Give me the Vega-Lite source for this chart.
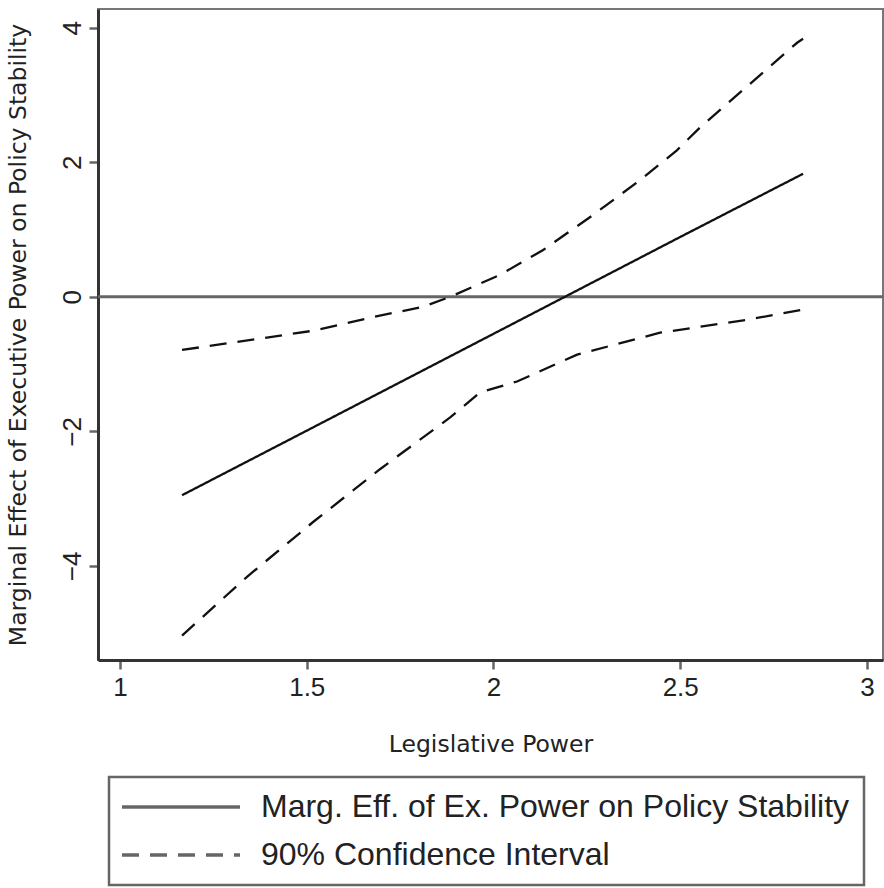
{
  "$schema": "https://vega.github.io/schema/vega-lite/v6.json",
  "width": 785,
  "height": 651,
  "autosize": {"type": "none"},
  "padding": {"left": 98, "top": 9, "right": 1, "bottom": 228},
  "background": "white",
  "config": {
    "view": {"stroke": "#777", "strokeWidth": 2},
    "font": "Liberation Sans",
    "axis": {
      "grid": false,
      "domainColor": "#333",
      "domainWidth": 3,
      "tickColor": "#666",
      "tickWidth": 2.5,
      "tickSize": 9,
      "labelFont": "Liberation Sans",
      "labelFontSize": 26,
      "labelColor": "#222",
      "titleFont": "DejaVu Sans",
      "titleFontSize": 23.5,
      "titleFontWeight": "normal",
      "titleColor": "#222"
    },
    "legend": {
      "orient": "none",
      "legendX": 11,
      "legendY": 768,
      "strokeColor": "#666",
      "strokeWidth": 2.5,
      "padding": 14,
      "labelFont": "Liberation Sans",
      "labelFontSize": 32,
      "labelColor": "#222",
      "labelLimit": 800,
      "rowPadding": 16
    }
  },
  "data": {
    "values": [
      {"x": 1.166, "y": -2.95, "series": "Marg. Eff. of Ex. Power on Policy Stability", "line": "est"},
      {"x": 1.5, "y": -1.99, "series": "Marg. Eff. of Ex. Power on Policy Stability", "line": "est"},
      {"x": 2.0, "y": -0.55, "series": "Marg. Eff. of Ex. Power on Policy Stability", "line": "est"},
      {"x": 2.5, "y": 0.89, "series": "Marg. Eff. of Ex. Power on Policy Stability", "line": "est"},
      {"x": 2.829, "y": 1.83, "series": "Marg. Eff. of Ex. Power on Policy Stability", "line": "est"},
      {"x": 1.166, "y": -0.79, "series": "90% Confidence Interval", "line": "upper"},
      {"x": 1.517, "y": -0.504, "series": "90% Confidence Interval", "line": "upper"},
      {"x": 1.669, "y": -0.311, "series": "90% Confidence Interval", "line": "upper"},
      {"x": 1.811, "y": -0.148, "series": "90% Confidence Interval", "line": "upper"},
      {"x": 1.884, "y": 0.0, "series": "90% Confidence Interval", "line": "upper"},
      {"x": 2.017, "y": 0.326, "series": "90% Confidence Interval", "line": "upper"},
      {"x": 2.133, "y": 0.696, "series": "90% Confidence Interval", "line": "upper"},
      {"x": 2.266, "y": 1.215, "series": "90% Confidence Interval", "line": "upper"},
      {"x": 2.392, "y": 1.733, "series": "90% Confidence Interval", "line": "upper"},
      {"x": 2.491, "y": 2.178, "series": "90% Confidence Interval", "line": "upper"},
      {"x": 2.553, "y": 2.519, "series": "90% Confidence Interval", "line": "upper"},
      {"x": 2.813, "y": 3.778, "series": "90% Confidence Interval", "line": "upper"},
      {"x": 2.829, "y": 3.837, "series": "90% Confidence Interval", "line": "upper"},
      {"x": 1.166, "y": -5.037, "series": "90% Confidence Interval", "line": "lower"},
      {"x": 1.34, "y": -4.163, "series": "90% Confidence Interval", "line": "lower"},
      {"x": 1.517, "y": -3.348, "series": "90% Confidence Interval", "line": "lower"},
      {"x": 1.696, "y": -2.563, "series": "90% Confidence Interval", "line": "lower"},
      {"x": 1.884, "y": -1.793, "series": "90% Confidence Interval", "line": "lower"},
      {"x": 1.964, "y": -1.422, "series": "90% Confidence Interval", "line": "lower"},
      {"x": 2.063, "y": -1.259, "series": "90% Confidence Interval", "line": "lower"},
      {"x": 2.224, "y": -0.859, "series": "90% Confidence Interval", "line": "lower"},
      {"x": 2.446, "y": -0.533, "series": "90% Confidence Interval", "line": "lower"},
      {"x": 2.679, "y": -0.341, "series": "90% Confidence Interval", "line": "lower"},
      {"x": 2.826, "y": -0.193, "series": "90% Confidence Interval", "line": "lower"}
    ]
  },
  "layer": [
    {
      "data": {"values": [{"zero": 0}]},
      "mark": {"type": "rule", "color": "#666", "strokeWidth": 3},
      "encoding": {"y": {"field": "zero", "type": "quantitative", "scale": {"domain": [-5.4, 4.28], "nice": false, "zero": false}}}
    },
    {
      "mark": {"type": "line", "color": "#111", "strokeWidth": 2.3, "clip": true},
      "encoding": {
        "x": {
          "field": "x", "type": "quantitative",
          "scale": {"domain": [0.941, 3.043], "nice": false, "zero": false},
          "axis": {"values": [1, 1.5, 2, 2.5, 3], "format": "~g", "title": "Legislative Power", "labelPadding": 5, "titlePadding": 32}
        },
        "y": {
          "field": "y", "type": "quantitative",
          "scale": {"domain": [-5.4, 4.28], "nice": false, "zero": false},
          "axis": {"values": [-4, -2, 0, 2, 4], "format": "~g", "title": "Marginal Effect of Executive Power on Policy Stability", "labelAngle": -90, "labelAlign": "center", "labelBaseline": "bottom", "labelPadding": 4, "titlePadding": 29}
        },
        "detail": {"field": "line"},
        "strokeDash": {
          "field": "series", "type": "nominal",
          "scale": {"domain": ["Marg. Eff. of Ex. Power on Policy Stability", "90% Confidence Interval"], "range": [[1, 0], [17, 11]]},
          "legend": {
            "title": null,
            "symbolType": "M-5,0H5",
            "symbolSize": 557,
            "symbolStrokeWidth": 3.5,
            "symbolStrokeColor": "#666",
            "symbolOffset": 42,
            "labelOffset": 64
          }
        }
      }
    }
  ]
}
